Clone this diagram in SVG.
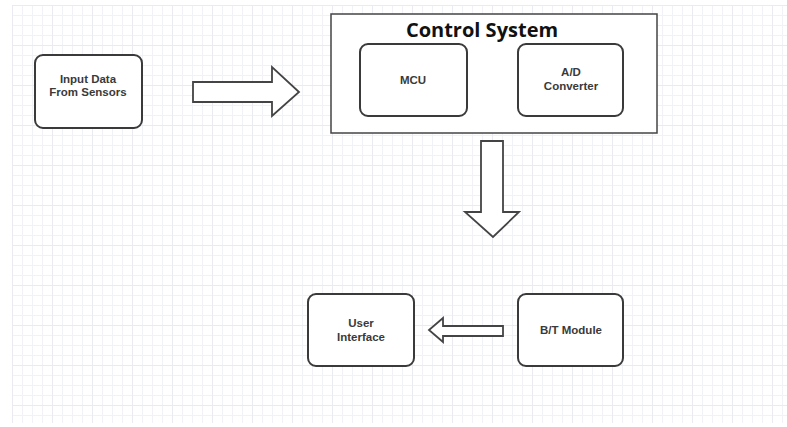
<svg xmlns="http://www.w3.org/2000/svg" width="787" height="427" viewBox="0 0 787 427">
<defs>
<pattern id="grid" x="12" y="5" width="10" height="10" patternUnits="userSpaceOnUse">
<path d="M0 0.5H10M0.5 0V10" fill="none" stroke="#f1f2f7" stroke-width="1"/>
</pattern>
<pattern id="grid2" x="12" y="5" width="40" height="40" patternUnits="userSpaceOnUse">
<path d="M0 0.5H40M0.5 0V40" fill="none" stroke="#e9eaf2" stroke-width="1"/>
</pattern>
</defs>
<style>
.box{fill:#ffffff;stroke:#3a3a3a;stroke-width:2}
.cont{fill:#ffffff;stroke:#444;stroke-width:1.5}
.arrow{fill:#ffffff;stroke:#444;stroke-width:1.8;stroke-linejoin:miter}
.lbl{font-family:"Liberation Sans",Arial,sans-serif;font-size:11.5px;font-weight:bold;fill:#3a3a3a;text-anchor:middle}
.title{font-family:"Open Sans","Liberation Sans",sans-serif;font-size:20px;font-weight:bold;fill:#111;text-anchor:middle}
</style>
<rect x="0" y="0" width="787" height="427" fill="#ffffff"/>
<rect x="12" y="5" width="775" height="418" fill="url(#grid)"/>
<rect x="12" y="5" width="775" height="418" fill="url(#grid2)"/>

<g id="input-node">
<rect class="box" x="35" y="55" width="107" height="73" rx="8"/>
<text class="lbl" x="88" y="83">Input Data</text>
<text class="lbl" x="88" y="96">From Sensors</text>
</g>

<g id="control-system">
<rect class="cont" x="331" y="14" width="326" height="119"/>
<text class="title" x="482" y="37">Control System</text>
<g id="mcu">
<rect class="box" x="360" y="44" width="107" height="72" rx="8"/>
<text class="lbl" x="413" y="84">MCU</text>
</g>
<g id="ad-converter">
<rect class="box" x="518" y="44" width="105" height="72" rx="8"/>
<text class="lbl" x="571" y="76">A/D</text>
<text class="lbl" x="571" y="90">Converter</text>
</g>
</g>

<g id="user-interface">
<rect class="box" x="308" y="294" width="106" height="72" rx="8"/>
<text class="lbl" x="361" y="327">User</text>
<text class="lbl" x="361" y="341">Interface</text>
</g>

<g id="bt-module">
<rect class="box" x="518" y="294" width="105" height="72" rx="8"/>
<text class="lbl" x="571" y="334">B/T Module</text>
</g>

<g id="connectors">
<polygon class="arrow" points="193,82 272,82 272,67 299,92 272,116 272,102 193,102"/>
<polygon class="arrow" points="481,141 503,141 503,212 519,212 493,237 465,212 481,212"/>
<polygon class="arrow" points="503,326 443,326 443,318 429,330 443,342 443,336 503,336"/>
</g>
</svg>
